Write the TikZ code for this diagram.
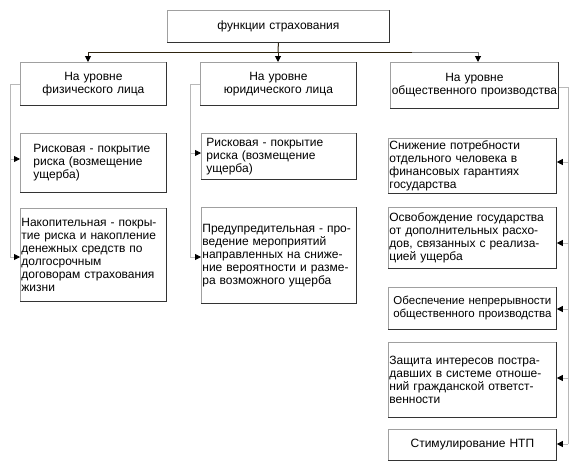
\documentclass[tikz,border=0pt]{standalone}
\usepackage{fontspec}
\setmainfont{Liberation Sans}
\usetikzlibrary{arrows.meta}
\definecolor{lgray}{HTML}{B8B8B8}
\definecolor{bgray}{HTML}{A0A0A0}
\definecolor{dline}{HTML}{2E2410}
\tikzset{
  box/.style={draw=bgray, line width=0.8pt, rectangle, anchor=north west, inner xsep=2pt, inner ysep=0pt, font=\fontsize{12}{13}\selectfont},
  cbox/.style={box, align=center},
  lbox/.style={box, align=left},
  edge/.style={draw=black!80, line width=0.9pt},
  dark/.style={draw=dline, line width=1pt},
  side/.style={draw=lgray, line width=0.8pt},
  tip/.style={-{Triangle[length=6pt,width=6pt,fill=black,color=black]}},
}
\begin{document}
\begin{tikzpicture}[x=1pt,y=-1pt]
\useasboundingbox[fill=white] (0,0) rectangle (580,463);
% level 0
\node[cbox, minimum width=222pt, minimum height=32pt, text width=218pt] (top) at (167,10) {функции страхования};
% level 1
\node[cbox, minimum width=146pt, minimum height=43pt, text width=142pt] (L0) at (20,62) {На уровне\\физического лица};
\node[cbox, minimum width=156pt, minimum height=43pt, text width=152pt] (M0) at (200,62) {На уровне\\юридического лица};
\node[cbox, minimum width=168pt, minimum height=46pt, text width=166pt, inner xsep=1pt] (R0) at (390,62) {На уровне\\общественного производства};
% left column
\node[lbox, minimum width=132pt, minimum height=59pt, text width=132pt, inner xsep=0pt, xshift=13pt, draw=none] (L1t) at (20,133) {Рисковая - покрытие\\риска (возмещение\\ущерба)};
\node[box, minimum width=146pt, minimum height=59pt] (L1) at (20,133) {};
\node[lbox, minimum width=146pt, minimum height=93pt, text width=144pt, inner xsep=1pt] (L2) at (20,208) {Накопительная - покры-\\тие риска и накопление\\денежных средств по\\долгосрочным\\договорам страхования\\жизни};
% middle column
\node[lbox, minimum width=155pt, minimum height=46pt, text width=145pt, inner xsep=5pt] (M1) at (201,133) {Рисковая - покрытие\\риска (возмещение\\ущерба)};
\node[lbox, minimum width=155pt, minimum height=96pt, text width=153pt, inner xsep=1pt] (M2) at (201,207) {Предупредительная - про-\\ведение мероприятий\\направленных на сниже-\\ние вероятности и разме-\\ра возможного ущерба};
% right column
\node[lbox, minimum width=168pt, minimum height=55pt, text width=166pt, inner xsep=1pt] (R1) at (388,138) {Снижение потребности\\отдельного человека в\\финансовых гарантиях\\государства};
\node[lbox, minimum width=168pt, minimum height=61pt, text width=166pt, inner xsep=1pt] (R2) at (388,207) {Освобождение государства\\от дополнительных расхо-\\дов, связанных с реализа-\\цией ущерба};
\node[cbox, minimum width=168pt, minimum height=42pt, text width=166pt, inner xsep=1pt, font=\fontsize{11.5}{13}\selectfont] (R3) at (388,287) {Обеспечение непрерывности\\общественного производства};
\node[lbox, minimum width=168pt, minimum height=75pt, text width=166pt, inner xsep=1pt] (R4) at (388,342) {Защита интересов постра-\\давших в системе отноше-\\ний гражданской ответст-\\венности};
\node[cbox, minimum width=168pt, minimum height=31pt, text width=166pt, inner xsep=1pt] (R5) at (388,429) {Стимулирование НТП};
% darker bottom/right edges
\foreach \n in {top,L0,M0,R0,L1,L2,M1,M2,R1,R2,R3,R4,R5}
  \draw[edge] (\n.north east) -- (\n.south east) -- (\n.south west);
% top connectors
\coordinate (hL) at (88,52);
\coordinate (hM) at (278,52);
\coordinate (hX) at (412,52);
\coordinate (hR) at (478,52);
\draw[dark] (top.south) -- (hM);
\draw[dark] (hL) -- (hX);
\draw[draw=gray, line width=1pt] (hX) -- (hR);
\draw[dark, tip] (hL) -- (hL |- L0.north);
\draw[dark, tip] (hM) -- (hM |- M0.north);
\draw[draw=gray, line width=1pt, tip] (hR) -- (hR |- R0.north);
% left side connectors
\coordinate (lc) at (10,84);
\coordinate (l1) at (10,159);
\coordinate (l2) at (10,257);
\draw[side] (lc -| L0.west) -- (lc) -- (l2);
\draw[side, tip] (l1) -- (l1 -| L1.west);
\draw[side, tip] (l2) -- (l2 -| L2.west);
% middle side connectors
\coordinate (mc) at (190,84);
\coordinate (m1) at (190,153);
\coordinate (m2) at (190,257);
\draw[side] (mc -| M0.west) -- (mc) -- (m2);
\draw[side, tip] (m1) -- (m1 -| M1.west);
\draw[side, tip] (m2) -- (m2 -| M2.west);
% right side connectors
\coordinate (rc) at (568,87);
\coordinate (r1) at (568,162);
\coordinate (r2) at (568,243);
\coordinate (r3) at (568,309);
\coordinate (r4) at (568,378);
\coordinate (r5) at (568,444);
\draw[side] (rc -| R0.east) -- (rc) -- (r5);
\draw[side, tip] (r1) -- (r1 -| R1.east);
\draw[side, tip] (r2) -- (r2 -| R2.east);
\draw[side, tip] (r3) -- (r3 -| R3.east);
\draw[side, tip] (r4) -- (r4 -| R4.east);
\draw[side, tip] (r5) -- (r5 -| R5.east);
\end{tikzpicture}
\end{document}
